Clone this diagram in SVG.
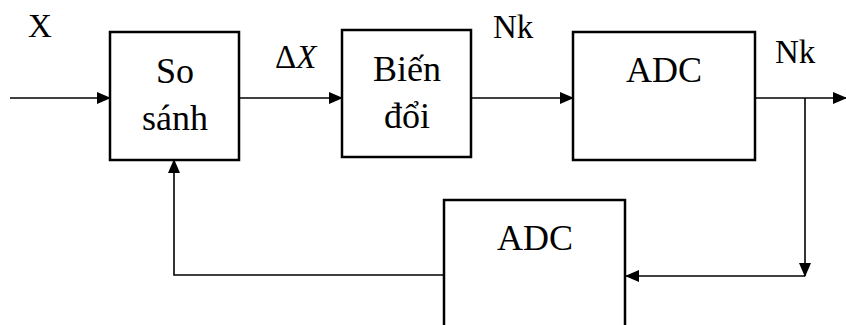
<svg xmlns="http://www.w3.org/2000/svg" width="846" height="325" viewBox="0 0 846 325">
<style>
.box{fill:#fff;stroke:#000;stroke-width:2.5}
.ln{fill:none;stroke:#000;stroke-width:1.6}
svg text.t{font-family:'Liberation Serif',serif !important;fill:#000}
</style>
<defs>
<marker id="ah" markerWidth="14" markerHeight="12" refX="13" refY="6" orient="auto" markerUnits="userSpaceOnUse">
<path d="M0,0 L14,6 L0,12 Z" fill="#000"/>
</marker>
</defs>
<rect width="846" height="325" fill="#fff"/>
<g id="connectors">
<line class="ln" x1="10" y1="98" x2="110" y2="98" marker-end="url(#ah)"/>
<line class="ln" x1="239" y1="98" x2="342" y2="98" marker-end="url(#ah)"/>
<line class="ln" x1="471" y1="98" x2="573" y2="98" marker-end="url(#ah)"/>
<line class="ln" x1="755" y1="98" x2="846" y2="98" marker-end="url(#ah)"/>
<polyline class="ln" points="805,98 805,276" marker-end="url(#ah)"/>
<line class="ln" x1="805" y1="276" x2="626" y2="276" marker-end="url(#ah)"/>
<polyline class="ln" points="444,275 174,275 174,160" marker-end="url(#ah)"/>
</g>
<g id="sosanh">
<rect class="box" x="110" y="32" width="129" height="128"/>
<text class="t" style="font-family:'Liberation Serif',serif" font-size="36" text-anchor="middle" x="175" y="83">So</text>
<text class="t" style="font-family:'Liberation Serif',serif" font-size="36" text-anchor="middle" x="175" y="130">sánh</text>
</g>
<g id="biendoi">
<rect class="box" x="342" y="30" width="129" height="127" stroke-width="3"/>
<text class="t" style="font-family:'Liberation Serif',serif" font-size="36" text-anchor="middle" x="407" y="81">Biến</text>
<text class="t" style="font-family:'Liberation Serif',serif" font-size="36" text-anchor="middle" x="407" y="128">đổi</text>
</g>
<g id="adc1">
<rect class="box" x="573" y="32" width="182" height="128"/>
<text class="t" style="font-family:'Liberation Serif',serif" font-size="36" text-anchor="middle" x="664" y="82">ADC</text>
</g>
<g id="adc2">
<rect class="box" x="444" y="200" width="181" height="140"/>
<text class="t" style="font-family:'Liberation Serif',serif" font-size="36" text-anchor="middle" x="535" y="250">ADC</text>
</g>
<g id="labels">
<text class="t" style="font-family:'Liberation Serif',serif" font-size="33" x="28" y="37">X</text>
<text class="t" style="font-family:'Liberation Serif',serif" font-size="33" x="275" y="68">Δ<tspan font-style="italic">X</tspan></text>
<text class="t" style="font-family:'Liberation Serif',serif" font-size="33" x="493" y="38">Nk</text>
<text class="t" style="font-family:'Liberation Serif',serif" font-size="33" x="775" y="63">Nk</text>
</g>
</svg>
